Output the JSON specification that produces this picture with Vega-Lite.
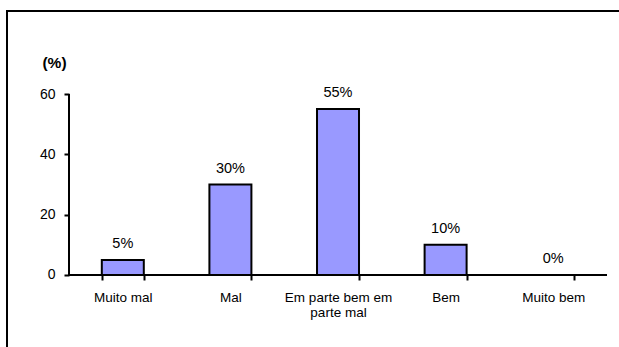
{
  "$schema": "https://vega.github.io/schema/vega-lite/v6.json",
  "autosize": {"type": "none"},
  "padding": {"left": 7, "top": 11, "right": -1, "bottom": -1},
  "width": 613,
  "height": 337,
  "background": "white",
  "config": {
    "view": {"stroke": "black", "strokeWidth": 2},
    "font": "Liberation Sans"
  },
  "data": {
    "values": [
      {"cat": "Muito mal", "v": 5, "label": "5%"},
      {"cat": "Mal", "v": 30, "label": "30%"},
      {"cat": "Em parte bem em parte mal", "v": 55, "label": "55%"},
      {"cat": "Bem", "v": 10, "label": "10%"},
      {"cat": "Muito bem", "v": 0, "label": "0%"}
    ]
  },
  "encoding": {
    "x": {
      "field": "cat",
      "type": "nominal",
      "sort": null,
      "scale": {
        "domain": ["Muito mal", "Mal", "Em parte bem em parte mal", "Bem", "Muito bem"],
        "paddingInner": 0.6097,
        "paddingOuter": 0.65335,
        "align": 0.6743,
        "round": false
      },
      "axis": {
        "orient": "bottom",
        "offset": -73,
        "domain": false,
        "grid": false,
        "tickBand": "extent",
        "tickSize": 5,
        "tickWidth": 2,
        "tickColor": "black",
        "labelAngle": 0,
        "labelFont": "Liberation Sans",
        "labelFontSize": 13.5,
        "labelColor": "black",
        "labelPadding": 10,
        "labelLineHeight": 15,
        "labelBaseline": "top",
        "labelExpr": "datum.value == 'Em parte bem em parte mal' ? ['Em parte bem em', 'parte mal'] : datum.value",
        "title": null
      }
    },
    "y": {
      "field": "v",
      "type": "quantitative",
      "scale": {"domain": [-24.199, 87.514], "nice": false, "zero": false},
      "axis": {
        "orient": "left",
        "offset": -62,
        "values": [0, 20, 40, 60],
        "domain": false,
        "grid": false,
        "tickSize": 5,
        "tickWidth": 2,
        "tickColor": "black",
        "labelFont": "Liberation Sans",
        "labelFontSize": 14,
        "labelColor": "black",
        "labelPadding": 9,
        "title": "(%)",
        "titleFont": "Liberation Sans",
        "titleAngle": 0,
        "titleFontWeight": "bold",
        "titleFontSize": 15.5,
        "titleColor": "black",
        "titleAlign": "center",
        "titleBaseline": "middle",
        "titleX": -15,
        "titleY": 51
      }
    }
  },
  "layer": [
    {
      "mark": {"type": "bar", "fill": "#9999FF", "stroke": "black", "strokeWidth": 2}
    },
    {
      "mark": {"type": "text", "baseline": "alphabetic", "dy": -12, "fontSize": 14.5, "color": "black", "font": "Liberation Sans"},
      "encoding": {"text": {"field": "label"}}
    },
    {
      "data": {"values": [{"cat": "Muito mal", "a": 0, "b": 60}]},
      "mark": {"type": "rule", "strokeWidth": 2, "color": "black"},
      "encoding": {
        "x": {"field": "cat", "type": "nominal", "bandPosition": -0.781},
        "y": {"field": "a", "type": "quantitative"},
        "y2": {"field": "b"}
      }
    },
    {
      "data": {"values": [{"c1": "Muito mal", "c2": "Muito bem", "a": 0}]},
      "mark": {"type": "rule", "strokeWidth": 2, "color": "black"},
      "encoding": {
        "x": {"field": "c1", "type": "nominal", "bandPosition": -0.781},
        "x2": {"field": "c2", "bandPosition": 1.781},
        "y": {"field": "a", "type": "quantitative"}
      }
    }
  ]
}
